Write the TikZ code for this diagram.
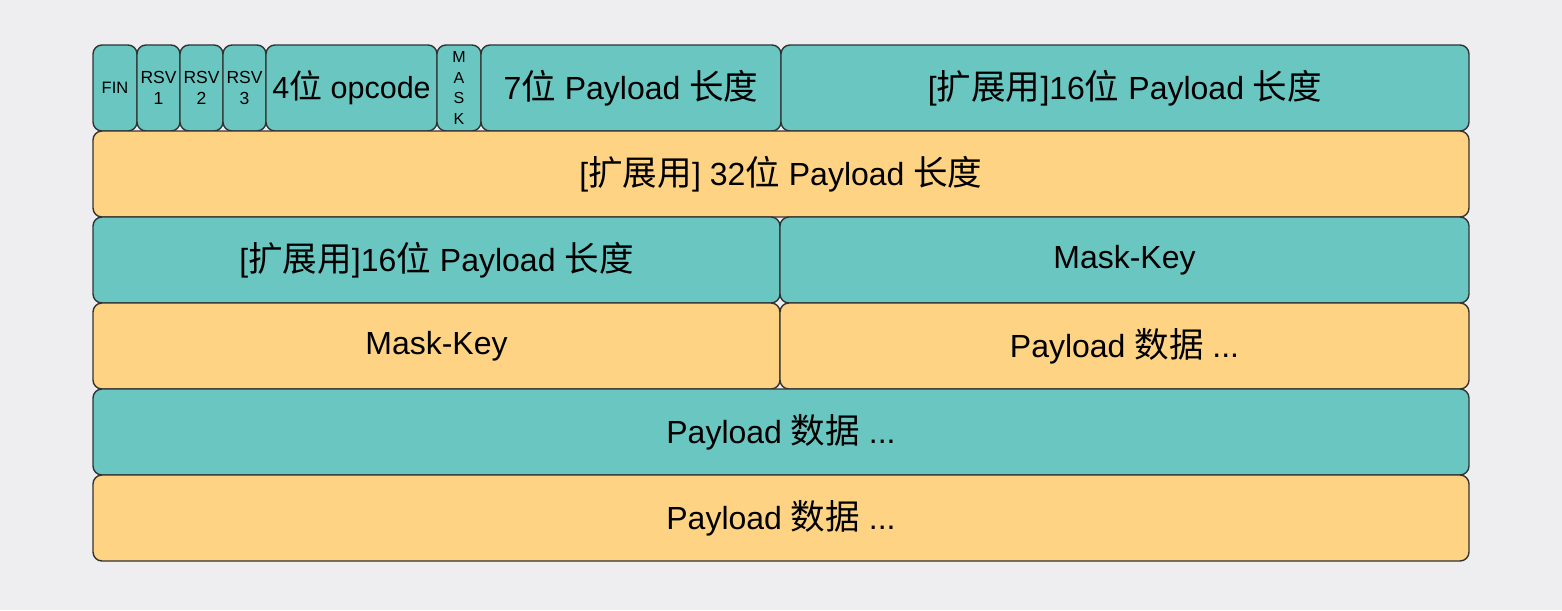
\documentclass[tikz,border=0pt]{standalone}
\usepackage{fontspec}
\setmainfont{Liberation Sans}
\newfontfamily\cjk[Scale=1.08]{Noto Sans CJK SC}
\definecolor{bgc}{HTML}{EEEEF0}
\definecolor{teal1}{HTML}{6AC6C1}
\definecolor{ora1}{HTML}{FED384}
\definecolor{edge1}{HTML}{333333}
\tikzset{
  cellbox/.style={rectangle, rounded corners=9pt, draw=edge1, line width=1.4pt, inner sep=0pt, align=center, text=black,
    font=\fontsize{32}{36}\selectfont},
  tealcell/.style={cellbox, fill=teal1},
  oracell/.style={cellbox, fill=ora1},
  opct/.style={font=\fontsize{30.5}{34}\selectfont},
  smallt/.style={font=\fontsize{17.5}{21}\selectfont},
  fint/.style={font=\fontsize{16.5}{20}\selectfont},
  maskt/.style={font=\fontsize{16}{20.5}\selectfont},
}
\begin{document}
\begin{tikzpicture}[x=1pt,y=-1pt]
\fill[bgc] (0,0) rectangle (1562,610);
\useasboundingbox (0,0) rectangle (1562,610);
% row 1
\node[tealcell, fint, minimum width=44pt, minimum height=86pt] (fin) at (115,88) {FIN};
\node[tealcell, smallt, minimum width=43pt, minimum height=86pt] (rsv1) at (158.5,88) {RSV\\1};
\node[tealcell, smallt, minimum width=43pt, minimum height=86pt] (rsv2) at (201.5,88) {RSV\\2};
\node[tealcell, smallt, minimum width=43pt, minimum height=86pt] (rsv3) at (244.5,88) {RSV\\3};
\node[tealcell, opct, minimum width=171pt, minimum height=86pt] (opcode) at (351.5,88) {4{\cjk 位} opcode};
\node[tealcell, maskt, minimum width=44pt, minimum height=86pt] (mask) at (459,88) {M\\A\\S\\K};
\node[tealcell, minimum width=300pt, minimum height=86pt] (len7) at (631,88) {7{\cjk 位} Payload {\cjk 长度}};
\node[tealcell, minimum width=688pt, minimum height=86pt] (len16a) at (1125,88) {[{\cjk 扩展用}]16{\cjk 位} Payload {\cjk 长度}};
% row 2
\node[oracell, minimum width=1376pt, minimum height=86pt] (len32) at (781,174) {[{\cjk 扩展用}] 32{\cjk 位} Payload {\cjk 长度}};
% row 3
\node[tealcell, minimum width=687pt, minimum height=86pt] (len16b) at (436.5,260) {[{\cjk 扩展用}]16{\cjk 位} Payload {\cjk 长度}};
\node[tealcell, minimum width=689pt, minimum height=86pt] (mk1) at (1124.5,260) {Mask-Key};
% row 4
\node[oracell, minimum width=687pt, minimum height=86pt] (mk2) at (436.5,346) {Mask-Key};
\node[oracell, minimum width=689pt, minimum height=86pt] (pd1) at (1124.5,346) {Payload {\cjk 数据} ...};
% row 5
\node[tealcell, minimum width=1376pt, minimum height=86pt] (pd2) at (781,432) {Payload {\cjk 数据} ...};
% row 6
\node[oracell, minimum width=1376pt, minimum height=86pt] (pd3) at (781,518) {Payload {\cjk 数据} ...};
\end{tikzpicture}
\end{document}
